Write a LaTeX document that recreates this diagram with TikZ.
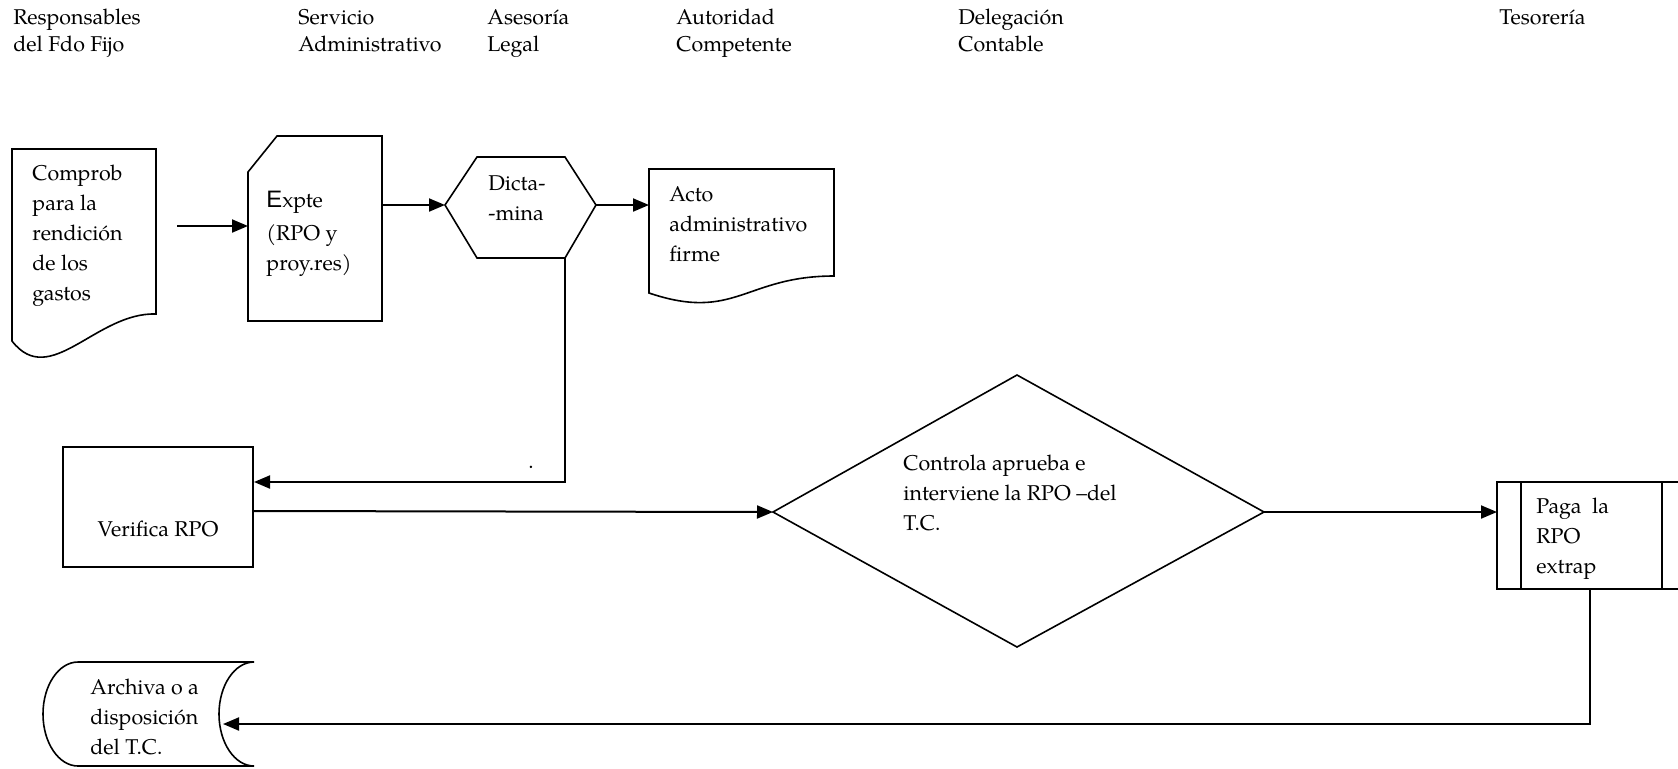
\documentclass[tikz,border=0pt]{standalone}
\usepackage{fontspec}
\setmainfont{TeX Gyre Pagella}
\newfontfamily\capsans{Liberation Sans}
\usetikzlibrary{arrows.meta}

\begin{document}
\begin{tikzpicture}[x=0.5pt,y=-0.5pt,
  outline/.style={line width=0.8pt, line join=miter},
  flow/.style={line width=1pt, -{Triangle[length=8pt,width=6.5pt]}},
  txt/.style={inner sep=0pt, align=left, anchor=west, font=\fontsize{10.7}{15}\selectfont},
  head/.style={inner sep=0pt, align=left, anchor=base west, font=\fontsize{10.7}{13.5}\selectfont}]

\clip (0,0) rectangle (1678,768);

% column headings (anchored on the baseline of their last line)
\node[head] (h1) at (13,51) {Responsables\\del Fdo Fijo};
\node[head] (h2) at (298,51) {Servicio\\Administrativo};
\node[head] (h3) at (487,51) {Asesor\'ia\\Legal};
\node[head] (h4) at (676,51) {Autoridad\\Competente};
\node[head] (h5) at (958,51) {Delegaci\'on\\Contable};
\node[head] (h6) at (1499,24) {Tesorer\'ia};

% receipts (document shape)
\draw[outline] (12,149) -- (156,149) -- (156,314)
  .. controls (96,312) and (50,390) .. (12,341) -- cycle;
\node[txt] (comprob) at (32,236) {Comprob\\para la\\rendici\'on\\de los\\gastos};

% file (card shape)
\draw[outline] (277,136) -- (382,136) -- (382,321) -- (248,321) -- (248,172) -- cycle;
\node[txt] (expte) at (266,234) {{\capsans\fontsize{11.9}{15}\selectfont E}xpte\\[1.5pt](RPO y\\proy.res)};
\coordinate (expteW) at (248,226);
\coordinate (expteE) at (382,205);
\coordinate (start) at (177,226);

% legal opinion (hexagon)
\draw[outline] (445,205) -- (477,157) -- (565,157) -- (596,205) -- (565,258) -- (477,258) -- cycle;
\node[txt] (dicta) at (488,198) {Dicta-\\-mina};
\coordinate (hexW) at (445,205);
\coordinate (hexE) at (596,205);
\coordinate (hexS) at (565,258);

% administrative act (document shape)
\draw[outline] (649,169) -- (834,169) -- (834,276)
  .. controls (745,276) and (735,322) .. (649,293) -- cycle;
\node[txt] (acto) at (669,224) {Acto\\administrativo\\firme};
\coordinate (actoW) at (649,205);

% verification (process box)
\draw[outline] (63,447) rectangle (253,567);
\node[font=\fontsize{10.7}{15}\selectfont, inner sep=0pt] (verifica) at (158,529) {Verifica RPO};
\coordinate (verifIn) at (254,482);
\coordinate (verifOut) at (253,511);
\coordinate (bend1) at (565,482);
\node[inner sep=0pt, font=\fontsize{10.7}{15}\selectfont] (dot) at (531,467) {.};

% control decision (diamond)
\draw[outline] (773,512) -- (1017,375) -- (1264,512) -- (1017,647) -- cycle;
\node[txt] (controla) at (903,493) {Controla aprueba e\\interviene la RPO --del\\T.C.};
\coordinate (diaW) at (773,512);
\coordinate (diaE) at (1264,512);

% payment (predefined process)
\draw[outline] (1497,482) rectangle (1686,589);
\draw[outline] (1521,482) -- (1521,589);
\draw[outline] (1662,482) -- (1662,589);
\node[txt] (paga) at (1536,539) {Paga\ \ la\\RPO\\extrap};
\coordinate (pagaW) at (1497,512);
\coordinate (pagaS) at (1590,589);
\coordinate (bend2) at (1590,724);

% archive (stored data)
\draw[outline] (78,662) -- (254,662)
  .. controls (234.7,662) and (219,685.3) .. (219,714)
  .. controls (219,742.7) and (234.7,766) .. (254,766)
  -- (78,766)
  .. controls (58.7,766) and (43,742.7) .. (43,714)
  .. controls (43,685.3) and (58.7,662) .. (78,662) -- cycle;
\node[txt] (archiva) at (90,717) {Archiva o a\\disposici\'on\\del T.C.};
\coordinate (archE) at (223,724);

% connectors
\draw[flow] (start) -- (expteW);
\draw[flow] (expteE) -- (hexW);
\draw[flow] (hexE) -- (actoW);
\draw[flow] (hexS) -- (bend1) -- (verifIn);
\draw[flow] (verifOut) -- (diaW);
\draw[flow] (diaE) -- (pagaW);
\draw[flow] (pagaS) -- (bend2) -- (archE);

\end{tikzpicture}
\end{document}
